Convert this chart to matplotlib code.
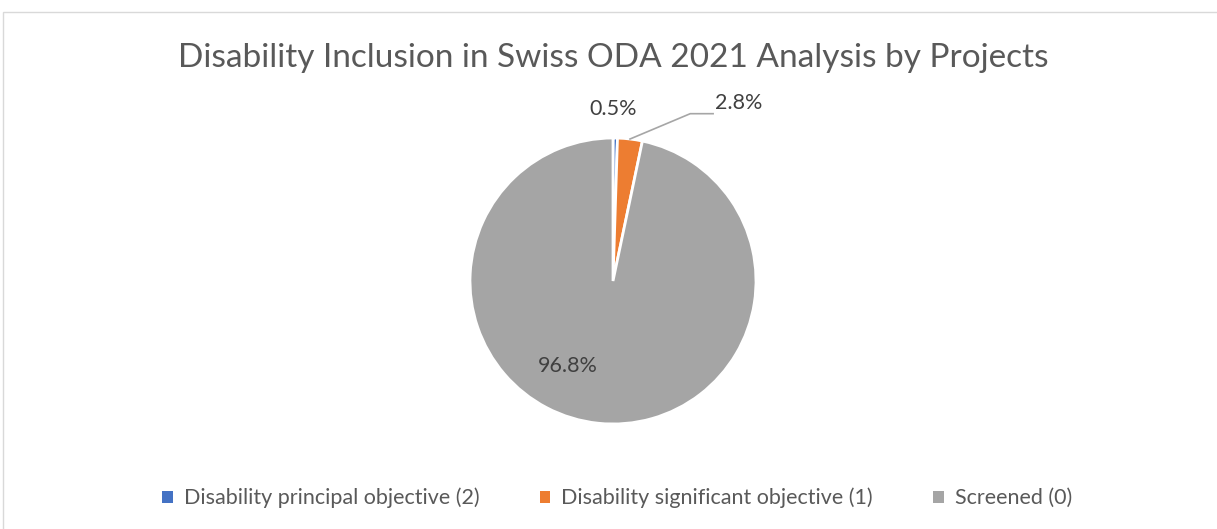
import matplotlib
matplotlib.use("Agg")
import matplotlib.pyplot as plt
import numpy as np
from matplotlib.patches import Rectangle

categories = ["Disability principal objective (2)",
              "Disability significant objective (1)",
              "Screened (0)"]
values = [0.5, 2.8, 96.8]
labels = ["0.5%", "2.8%", "96.8%"]
colors = ["#4472C4", "#ED7D31", "#A5A5A5"]
title = "Disability Inclusion in Swiss ODA 2021 Analysis by Projects"

W, H = 1217, 529
fig = plt.figure(figsize=(W / 100, H / 100), dpi=100)
plt.rcParams['font.family'] = ['Lato', 'DejaVu Sans']

# chart frame
fig.patches.append(Rectangle((3 / W, -0.1), 1.2, (H - 12) / H + 0.1,
                             transform=fig.transFigure, fill=False,
                             edgecolor="#D9D9D9", linewidth=1.0))

cx, cy, r = 613, 281, 143
ax = fig.add_axes([(cx - r) / W, (H - cy - r) / H, 2 * r / W, 2 * r / H])
wedges, _ = ax.pie(values, colors=colors, startangle=90, counterclock=False,
                   wedgeprops=dict(edgecolor="white", linewidth=2.0))
ax.set_xlim(-1, 1)
ax.set_ylim(-1, 1)
ax.set_aspect("equal")

txt = dict(fontsize=15.5, color="#404040")
# 0.5% label
ax.text(0.0, 1.2, labels[0], ha="center", va="center", **txt)
# 2.8% label with leader line
th = np.deg2rad((wedges[1].theta1 + wedges[1].theta2) / 2)
x0, y0 = np.cos(th) * 1.0, np.sin(th) * 1.0
ax.plot([x0, 0.54, 0.70], [y0, 1.17, 1.17], color="#A6A6A6", lw=1.2,
        clip_on=False)
ax.text(0.71, 1.245, labels[1], ha="left", va="center", **txt)
# 96.8% label
ax.text(-0.315, -0.594, labels[2], ha="center", va="center", **txt)

fig.text(613 / W, 1 - 58 / H, title, ha="center", va="center",
         fontsize=24, color="#595959")

handles = [Rectangle((0, 0), 1, 1, facecolor=c) for c in colors]
fig.legend(handles, categories, loc="center", bbox_to_anchor=(617 / W, 1 - 498 / H),
           ncol=3, frameon=False, fontsize=15.5, handlelength=0.5, handleheight=0.5,
           handletextpad=0.5, columnspacing=2.8, labelcolor="#595959")

fig.savefig("out.png", dpi=100)
